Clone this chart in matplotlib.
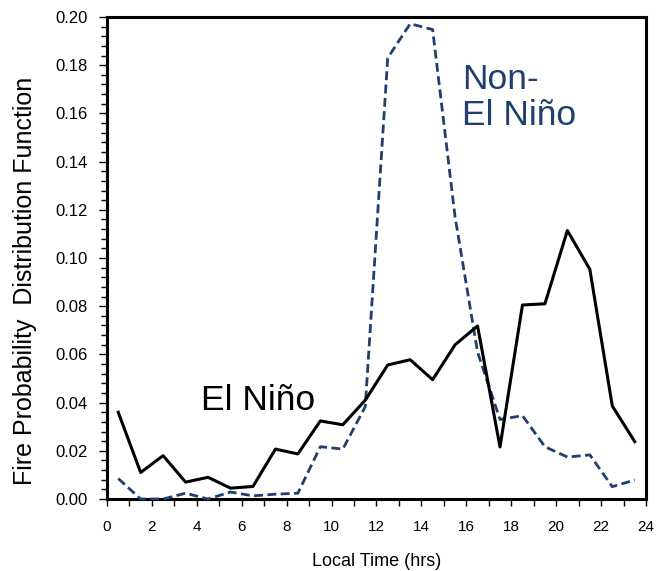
import matplotlib.pyplot as plt
from matplotlib.ticker import MultipleLocator, FormatStrFormatter

plt.rcParams['font.family'] = ['Liberation Sans', 'DejaVu Sans']

# hourly bins, centred on the half hour
hours = [h + 0.5 for h in range(24)]

el_nino = [0.036, 0.011, 0.018, 0.007, 0.009, 0.0045, 0.0052, 0.0207, 0.0187, 0.0324,
           0.0308, 0.041, 0.0556, 0.0578, 0.0495, 0.064, 0.0718, 0.0216, 0.0805, 0.081,
           0.1114, 0.0953, 0.0386, 0.0238]
non_el_nino = [0.0085, 0.0, 0.0, 0.0024, 0.0, 0.0029, 0.0013, 0.002, 0.0024, 0.0217,
               0.0207, 0.0383, 0.183, 0.1972, 0.1948, 0.117, 0.061, 0.033, 0.0346, 0.0217,
               0.0174, 0.0183, 0.0051, 0.0079]

navy = '#1f3f6e'

fig = plt.figure(figsize=(6.62, 5.71), dpi=100)
ax = fig.add_axes([0.1616, 0.1261, 0.8142, 0.8441])

ax.plot(hours, non_el_nino, color=navy, lw=2.0, ls=(0, (3.2, 1.6)), clip_on=False, zorder=3)
ax.plot(hours, el_nino, color='black', lw=2.2, clip_on=False, zorder=4)

ax.set_xlim(0, 24)
ax.set_ylim(0, 0.20)
ax.xaxis.set_major_locator(MultipleLocator(2))
ax.xaxis.set_minor_locator(MultipleLocator(1))
ax.yaxis.set_major_locator(MultipleLocator(0.02))
ax.yaxis.set_minor_locator(MultipleLocator(0.004))
ax.yaxis.set_major_formatter(FormatStrFormatter('%.2f'))

for s in ax.spines.values():
    s.set_linewidth(2.2)

ax.tick_params(which='both', direction='out', width=1.0, colors='black')
ax.tick_params(axis='y', which='major', length=6, pad=8, labelsize=12)
ax.tick_params(axis='y', which='minor', length=4)
ax.tick_params(axis='x', which='both', length=5, pad=10, labelsize=11)

ax.set_xlabel('Local Time (hrs)', fontsize=13, labelpad=14)
# y title sits a little below the axes centre
fig.text(25 / 662, 1 - 281 / 571, 'Fire Probability  Distribution Function',
         fontsize=18, rotation=90, ha='center', va='center')

ax.text(4.2, 0.037, 'El Niño', fontsize=25.5, color='black')
ax.text(15.8, 0.155, 'Non-\nEl Niño', fontsize=25.5, color=navy, linespacing=1.15)

fig.savefig('out.png', dpi=100)
